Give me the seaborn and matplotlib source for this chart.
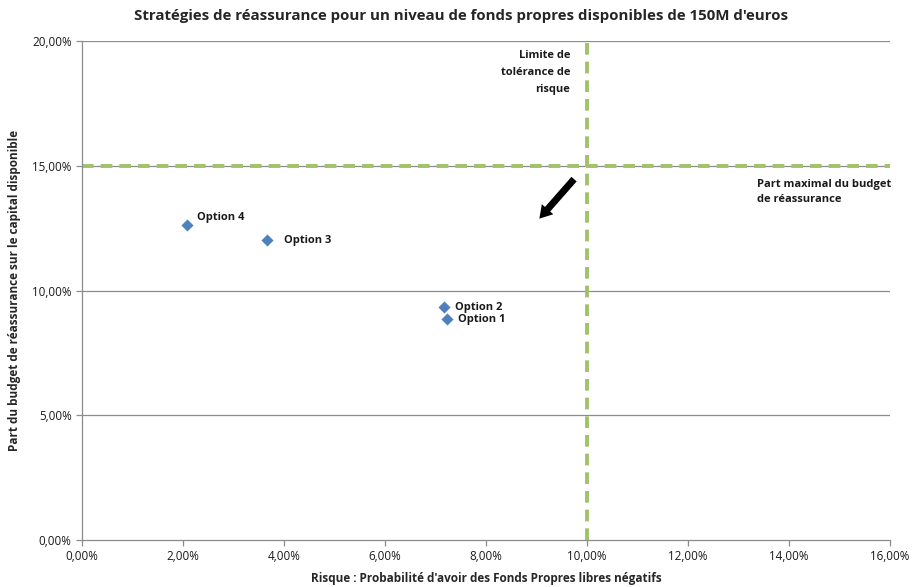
import numpy as np
import pandas as pd
import matplotlib
matplotlib.use("Agg")
import matplotlib.pyplot as plt
import seaborn as sns
from matplotlib.ticker import FuncFormatter

# values (in %)
options = ["Option 1", "Option 2", "Option 3", "Option 4"]
risque = [7.23, 7.17, 3.66, 2.08]
budget = [8.86, 9.34, 12.02, 12.63]

limite_risque = 10.0
limite_budget = 15.0

x_ticks = [0, 2, 4, 6, 8, 10, 12, 14, 16]
y_ticks = [0, 5, 10, 15, 20]

df = pd.DataFrame({"option": options, "risque": risque, "budget": budget})

sns.set_style("white")
plt.rcParams["font.family"] = ["Open Sans", "DejaVu Sans"]

fig = plt.figure(figsize=(9.13, 5.87), dpi=100)
ax = fig.add_axes([0.0898, 0.080, 0.885, 0.850])

# gridlines
for yv in y_ticks[1:]:
    ax.axhline(yv, color="#8c8c8c", lw=0.9, zorder=0)

green = "#a2c169"
ax.plot([0, 16], [limite_budget, limite_budget], color=green, lw=2.8,
        dashes=(3.0, 1.8), zorder=1, clip_on=False)
ax.plot([limite_risque, limite_risque], [0, 20], color=green, lw=2.8,
        dashes=(3.0, 1.8), zorder=1, clip_on=False)

sns.scatterplot(data=df, x="risque", y="budget", marker="D", s=38,
                color="#4f81bd", edgecolor="#4f81bd", linewidth=0, ax=ax, zorder=3)

# point labels
for name, xv, yv in zip(options, risque, budget):
    dx = 0.22 if name in ("Option 2", "Option 1") else 0.27
    dy = 0.0
    if name == "Option 4":
        dx, dy = 0.2, 0.28
    if name == "Option 3":
        dx = 0.35
    ax.text(xv + dx, yv + dy, name, fontsize=8, fontweight="bold",
            va="center", ha="left", color="#1a1a1a")

# arrow
ax.annotate("", xy=(9.02, 12.8), xytext=(9.78, 14.55),
            arrowprops=dict(arrowstyle="simple,head_length=0.9,head_width=1.1,tail_width=0.5",
                            color="black", lw=0))

ax.text(9.67, 19.64, "Limite de\ntolérance de\nrisque", fontsize=8, fontweight="bold",
        ha="right", va="top", linespacing=1.75, color="#1a1a1a")
ax.text(13.36, 13.95, "Part maximal du budget\nde réassurance", fontsize=8,
        fontweight="bold", ha="left", va="center", linespacing=1.5, color="#1a1a1a")

ax.set_xlim(0, 16)
ax.set_ylim(0, 20)
ax.set_xticks(x_ticks)
ax.set_yticks(y_ticks)
fmt = FuncFormatter(lambda v, p: f"{v:.2f}%".replace(".", ","))
ax.xaxis.set_major_formatter(fmt)
ax.yaxis.set_major_formatter(fmt)
ax.tick_params(axis="both", labelsize=8.4, length=4, width=0.9,
               direction="out", bottom=True, left=True,
               colors="#8c8c8c", labelcolor="#1a1a1a")

for s in ["top", "right"]:
    ax.spines[s].set_visible(False)
for s in ["left", "bottom"]:
    ax.spines[s].set_color("#8c8c8c")
    ax.spines[s].set_linewidth(0.9)

ax.set_xlabel("Risque : Probabilité d'avoir des Fonds Propres libres négatifs",
              fontsize=8.5, fontweight="bold", labelpad=6)
ax.set_ylabel("Part du budget de réassurance sur le capital disponible",
              fontsize=8.5, fontweight="bold", labelpad=8)
fig.suptitle("Stratégies de réassurance pour un niveau de fonds propres disponibles de 150M d'euros",
             fontsize=10.8, fontweight="bold", y=0.985, x=0.505)

fig.savefig("out.png", dpi=100)
